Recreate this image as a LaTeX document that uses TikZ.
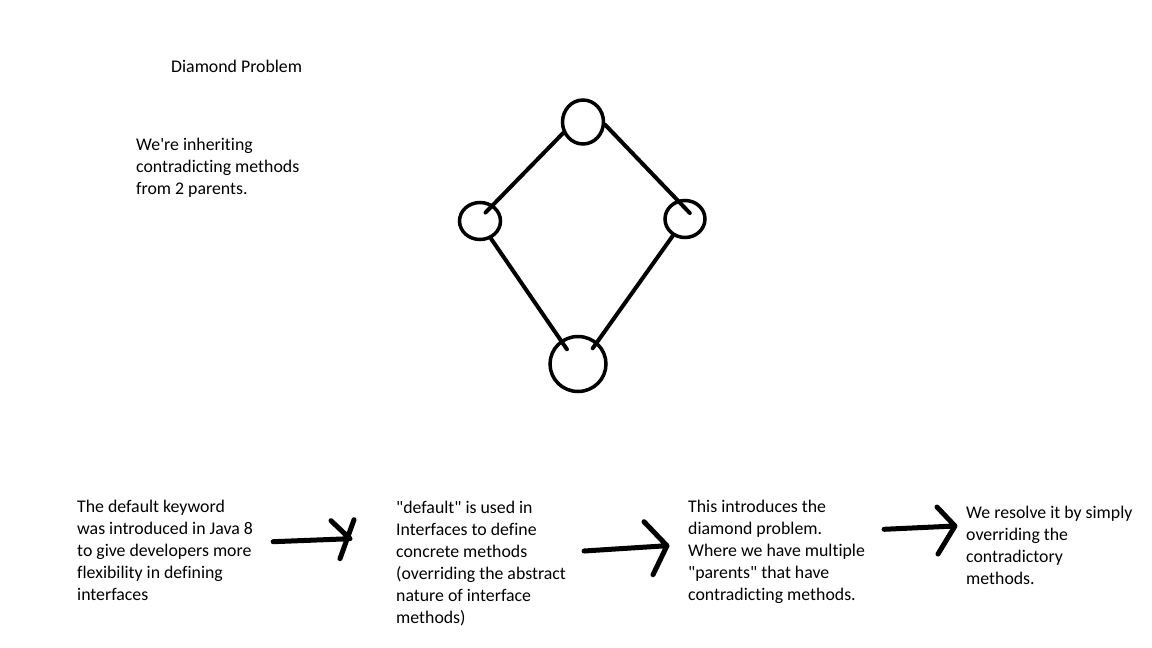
\documentclass[tikz,border=0pt]{standalone}
\usetikzlibrary{shapes.geometric}
\font\calibrifont="Carlito:-liga;-clig" at 17.8pt
\newcommand\paintfont{\fontsize{17.8}{22}\selectfont\calibrifont}
\begin{document}
\begin{tikzpicture}[x=1pt,y=-1pt,
        vertex/.style={draw,ellipse,inner sep=0pt,line width=3.5pt},
        edge/.style={draw,line width=4pt,line cap=round},
        note/.style={anchor=north west,inner sep=0pt,align=left,font=\paintfont},
        handarrow/.style={draw,line width=5pt,line cap=round,line join=round}]
        \useasboundingbox[fill=white] (0,0) rectangle (1152,648);

        \node[vertex,minimum width=41pt,minimum height=44pt] (top) at (583,122) {};
        \node[vertex,minimum width=41pt,minimum height=37pt] (lp) at (480,221) {};
        \node[vertex,minimum width=40pt,minimum height=37pt] (rp) at (685,219) {};
        \node[vertex,minimum width=56pt,minimum height=55pt] (bot) at (578,364) {};
        \path[edge,shorten >=-11pt] (top.209) -- (lp.51);
        \path[edge,shorten >=-18pt] (top.353) -- (rp.112);
        \path[edge,shorten >=-11pt] (lp.302) -- (bot.126);
        \path[edge,shorten >=-8pt] (rp.234) -- (bot.49);

        \node[note] (title) at (171,59.5) {Diamond Problem};
        \node[note] (why) at (136,138) {We're inheriting\\contradicting methods\\from 2 parents.};

        \node[note] (s1) at (77,500) {The default keyword\\was introduced in Java 8\\to give developers more\\flexibility in defining\\interfaces};
        \node[note] (s2) at (396,501) {"default" is used in\\Interfaces to define\\concrete methods\\(overriding the abstract\\nature of interface\\methods)};
        \node[note] (s3) at (688,500) {This introduces the\\diamond problem.\\Where we have multiple\\"parents" that have\\contradicting methods.};
        \node[note] (s4) at (966,505.5) {We resolve it by simply\\overriding the\\contradictory\\methods.};

        \path[handarrow] ([shift={(20,41.7)}]s1.north east) -- ([shift={(-46,37.7)}]s2.north west) coordinate (h1)
            ++(-19,-18) -- (h1) ++(4,-19) -- ++(-14,39);
        \path[handarrow] ([shift={(18,50)}]s2.north east) -- ([shift={(-21,45.7)}]s3.north west) coordinate (h2)
            ++(-23,-24) -- (h2) -- ++(-14,29);
        \path[handarrow] ([shift={(19,29.3)}]s3.north east) -- ([shift={(-11,20.5)}]s4.north west) coordinate (h3)
            ++(-18,-19) -- (h3) -- ++(-17,28);
    \end{tikzpicture}
\end{document}
